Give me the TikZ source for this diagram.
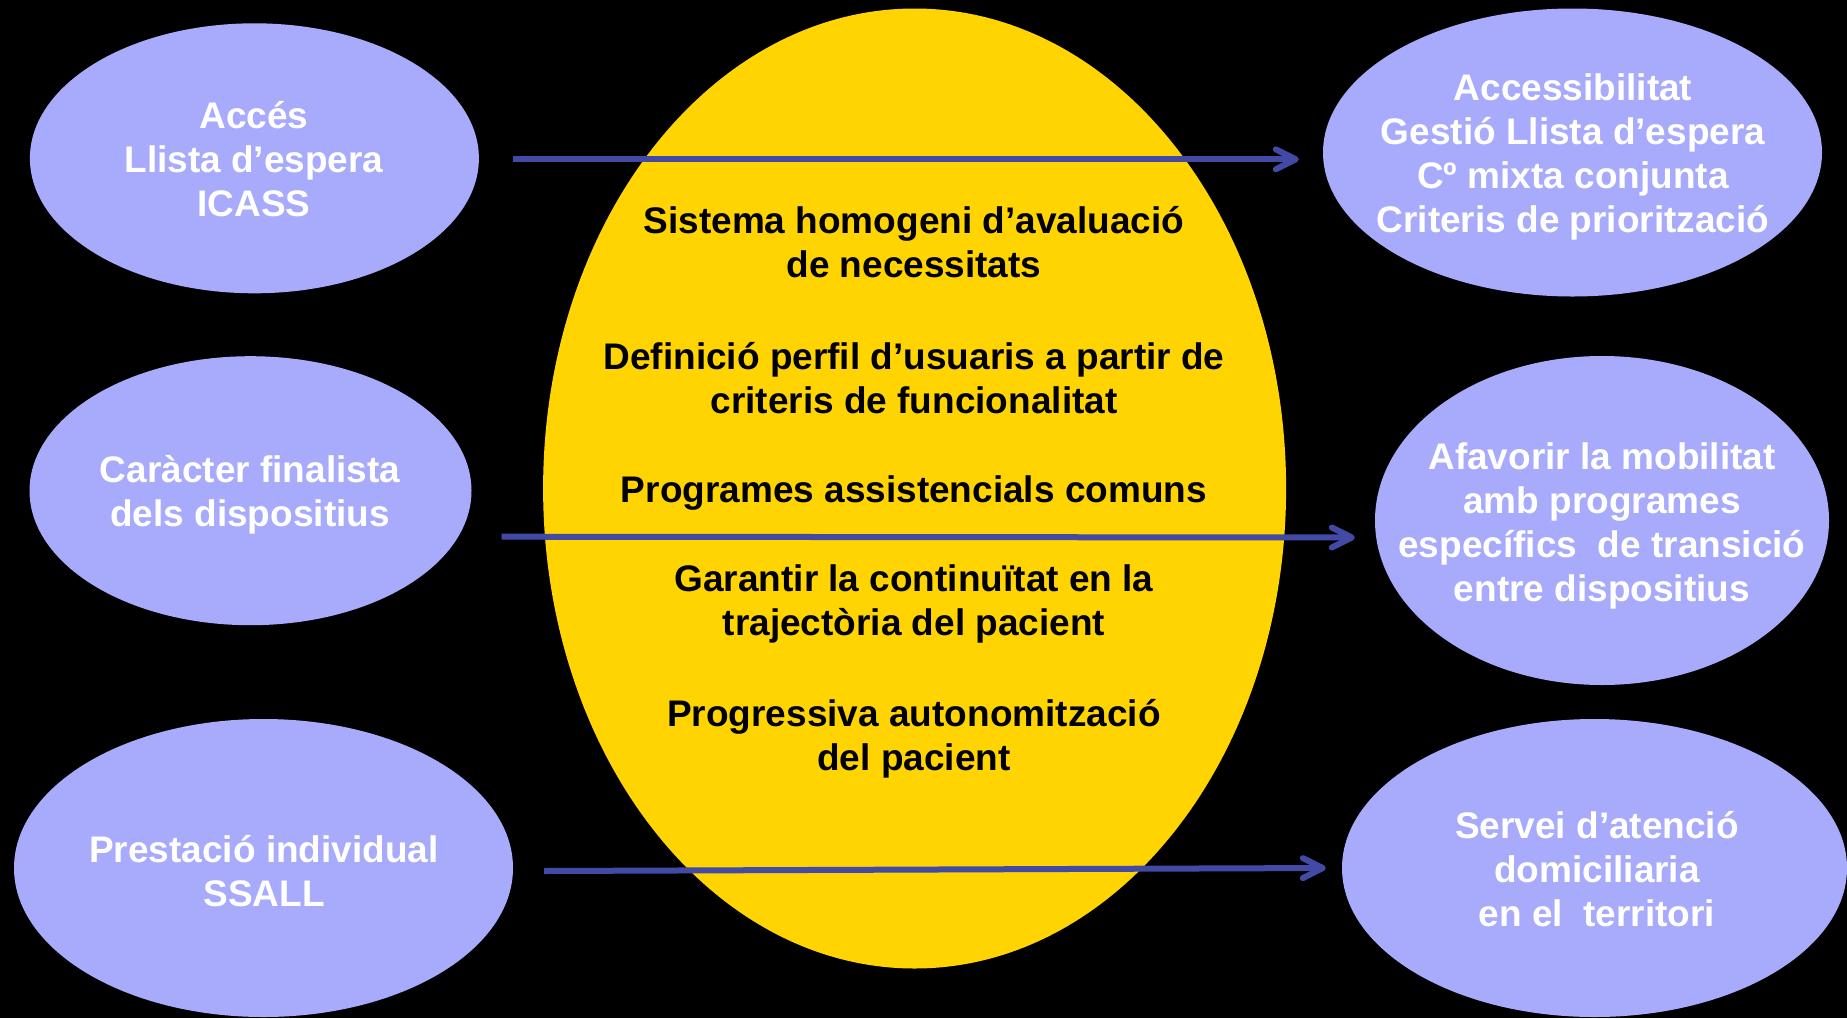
\documentclass[tikz,border=0pt]{standalone}
\usepackage{fontspec}
\setmainfont{Liberation Sans}
\usetikzlibrary{shapes.geometric,arrows.meta}
\definecolor{lav}{RGB}{168,170,252}
\definecolor{gold}{RGB}{255,212,0}
\definecolor{arrowblue}{RGB}{67,74,166}
\begin{document}
\begin{tikzpicture}[x=1pt,y=-1pt,
  bubble/.style={ellipse, fill=lav, draw=none, inner sep=0pt},
  wtxt/.style={text=white, font=\fontsize{37}{44}\selectfont\bfseries, align=center, inner sep=0pt},
  btxt/.style={wtxt, text=black},
  arr/.style={draw=arrowblue, line width=6pt, -{Straight Barb[length=20pt,width=20pt,round]}}]
\fill[black] (0,0) rectangle (1847,1018);
\useasboundingbox (0,0) rectangle (1847,1018);
% central ellipse
\node[ellipse, fill=gold, draw=none, inner sep=0pt, minimum width=743pt, minimum height=960pt] (C) at (914.6,488.5) {};
% left bubbles
\node[bubble, minimum width=449pt, minimum height=270pt] (L1) at (254.4,158.3) {};
\node[bubble, minimum width=442pt, minimum height=269pt] (L2) at (250.5,490.7) {};
\node[bubble, minimum width=499pt, minimum height=298pt] (L3) at (263.5,868) {};
% right bubbles
\node[bubble, minimum width=499pt, minimum height=288pt] (R1) at (1572.5,152.5) {};
\node[bubble, minimum width=454pt, minimum height=329pt] (R2) at (1602,520.5) {};
\node[bubble, minimum width=505pt, minimum height=298pt] (R3) at (1594.5,868) {};
% texts
\node[wtxt] (tL1) at (254,159.3) {Accés\\Llista d’espera\\ICASS};
\node[wtxt] (tL2) at (250,495) {Caràcter finalista\\dels dispositius};
\node[wtxt] (tL3) at (264,871.3) {Prestació individual\\SSALL};
\node[wtxt] (tR1) at (1573,157.3) {Accessibilitat\\Gestió Llista d’espera\\Cº mixta conjunta\\Criteris de priorització};
\node[wtxt] (tR2) at (1602,526.3) {Afavorir la mobilitat\\amb programes\\específics\ \ de transició\\entre dispositius};
\node[wtxt] (tR3) at (1597,869.2) {Servei d’atenció\\domiciliaria\\en el\ \ territori};
\node[btxt] (c1) at (914,242.5) {Sistema homogeni d’avaluació\\de necessitats};
\node[btxt] (c2) at (914,378.3) {Definició perfil d’usuaris a partir de\\criteris de funcionalitat};
\node[btxt] (c3) at (914,493.3) {Programes assistencials comuns};
\node[btxt] (c4) at (914,604.2) {Garantir la continuïtat en la\\trajectòria del pacient};
\node[btxt] (c5) at (914,738.3) {Progressiva autonomització\\del pacient};
% arrows
\draw[arr] ([xshift=34pt,yshift=-1pt]L1.east) -- ([xshift=-24pt,yshift=-1pt]L1.east -| R1.west);
\draw[arr] ([xshift=30pt,yshift=-46pt]L2.east) -- ([xshift=-20pt,yshift=-17pt]R2.west);
\draw[arr] ([xshift=31pt,yshift=-3pt]L3.east) -- ([xshift=-16pt,yshift=0pt]R3.west);
\end{tikzpicture}
\end{document}
